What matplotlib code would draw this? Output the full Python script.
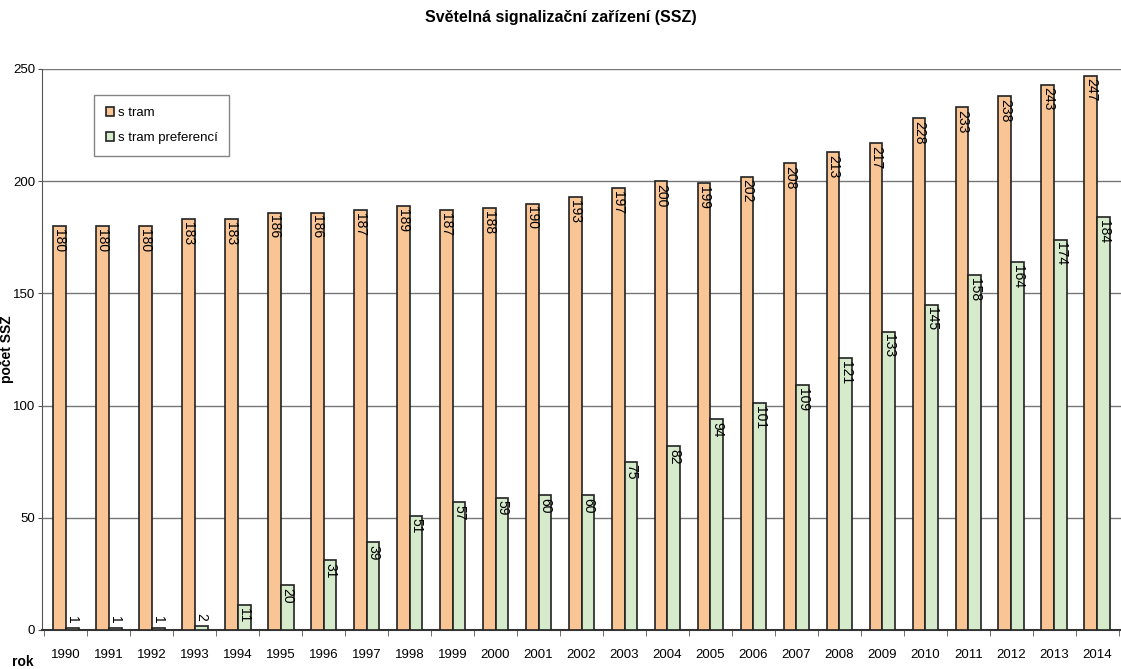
import numpy as np
import matplotlib.pyplot as plt

plt.rcParams['font.family'] = ['Liberation Sans', 'DejaVu Sans']

years = [str(y) for y in range(1990, 2015)]
s_tram = [180, 180, 180, 183, 183, 186, 186, 187, 189, 187, 188, 190, 193,
          197, 200, 199, 202, 208, 213, 217, 228, 233, 238, 243, 247]
s_pref = [1, 1, 1, 2, 11, 20, 31, 39, 51, 57, 59, 60, 60,
          75, 82, 94, 101, 109, 121, 133, 145, 158, 164, 174, 184]

fig = plt.figure(figsize=(11.21, 6.69), dpi=100)
ax = fig.add_axes([0.0375, 0.0583, 0.9625, 0.8386])

x = np.arange(len(years))
w = 0.3
ax.bar(x - w / 2, s_tram, w, color='#F9C595', edgecolor='#222222', linewidth=1.2,
       label='s tram', zorder=3)
ax.bar(x + w / 2, s_pref, w, color='#D5EBCB', edgecolor='#222222', linewidth=1.2,
       label='s tram preferencí', zorder=3)

# value labels, rotated, at the top of each bar
for xi, v in zip(x, s_tram):
    ax.text(xi - w / 2, v - 1.2, str(v), rotation=270, ha='center', va='top',
            fontsize=10, zorder=4)
for xi, v in zip(x, s_pref):
    if v < 10:
        ax.text(xi + w / 2, v + 2, str(v), rotation=270, ha='center', va='bottom',
                fontsize=10, zorder=4)
    else:
        ax.text(xi + w / 2, v - 1.2, str(v), rotation=270, ha='center', va='top',
                fontsize=10, zorder=4)

ax.set_xlim(-0.55, len(years) - 0.45)
ax.set_ylim(0, 250)
ax.set_yticks([0, 50, 100, 150, 200, 250])
ax.yaxis.grid(True, color='#777777', linewidth=1, zorder=0)
ax.set_xticks(x)
ax.set_xticklabels(years, fontsize=9.5)
ax.set_xticks(np.arange(len(years) + 1) - 0.5, minor=True)
ax.tick_params(axis='x', which='major', length=0, pad=14)
ax.tick_params(axis='x', which='minor', length=4, color='#555555')
ax.tick_params(axis='y', labelsize=9.5, length=3, pad=2, color='#555555')

for s in ['top', 'right']:
    ax.spines[s].set_visible(False)
ax.spines['left'].set_color('#555555')
ax.spines['bottom'].set_color('#333333')
ax.spines['bottom'].set_linewidth(1.5)

ax.set_ylabel('počet SSZ', fontsize=10, fontweight='bold')
ax.yaxis.set_label_coords(-0.026, 0.5)
fig.text(0.011, 0.004, 'rok', fontsize=10, fontweight='bold')
fig.suptitle('Světelná signalizační zařízení (SSZ)', fontsize=11.5, fontweight='bold', y=0.985)

leg = ax.legend(loc='upper left', bbox_to_anchor=(0.042, 0.965), fontsize=9.5,
                frameon=True, fancybox=False, edgecolor='#666666',
                handlelength=0.6, handleheight=0.6, handletextpad=0.3,
                labelspacing=1.0, borderpad=0.9)
leg.get_frame().set_linewidth(1)

fig.savefig('out.png', dpi=100)
